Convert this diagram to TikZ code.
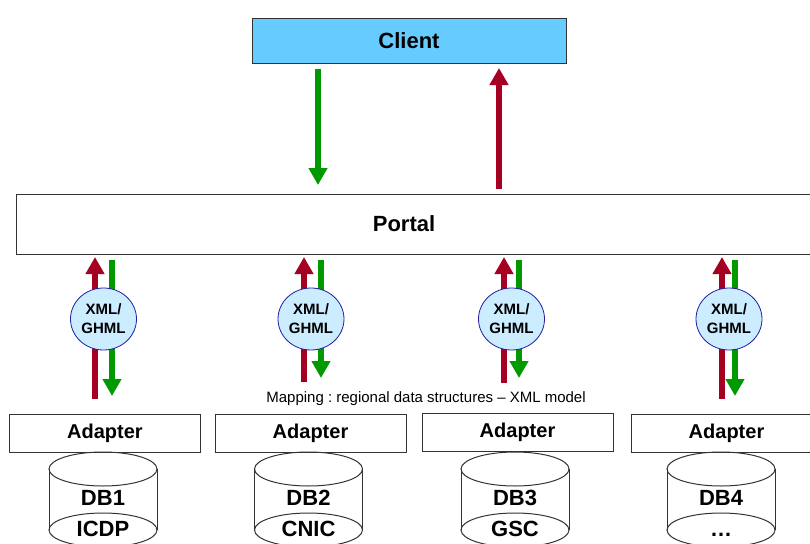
\documentclass[tikz,border=0pt]{standalone}
\usepackage{fontspec}
\setmainfont{Liberation Sans}
\usetikzlibrary{arrows.meta,shapes.geometric}
\definecolor{clientblue}{HTML}{66CCFF}
\definecolor{arrred}{HTML}{A50021}
\definecolor{arrgreen}{HTML}{009900}
\definecolor{bubblefill}{HTML}{CCECFF}
\definecolor{bubbleline}{HTML}{1F1FA0}
\definecolor{boxline}{HTML}{333333}
\frenchspacing
\begin{document}
\begin{tikzpicture}[x=1pt,y=-1pt,
  box/.style={draw=boxline, line width=1pt, rectangle, inner sep=0pt},
  upflow/.style={draw=arrred, line width=6pt, -{Triangle[width=18pt,length=17pt]}},
  downflow/.style={draw=arrgreen, line width=6pt, -{Triangle[width=18pt,length=17pt]}},
  bubble/.style={ellipse, draw=bubbleline, fill=bubblefill, line width=0.8pt,
    minimum width=66pt, minimum height=62pt, inner sep=0pt, align=center,
    font=\bfseries\fontsize{15}{19}\selectfont},
  cylline/.style={draw=boxline, line width=1pt},
  dbtext/.style={font=\bfseries\fontsize{22}{26}\selectfont, inner sep=0pt, anchor=base},
  bigtext/.style={font=\bfseries\fontsize{22}{26}\selectfont, inner sep=0pt}
]
\useasboundingbox (0,0) rectangle (810,543);
\clip (0,0) rectangle (810,543);

% Client
\node[box, fill=clientblue, minimum width=314pt, minimum height=44pt, bigtext] (client) at (409,41) {Client};

% Portal
\node[box, minimum width=820pt, minimum height=60pt, anchor=north west] (portal) at (16,194) {};
\node[bigtext] (portallabel) at (404,224) {Portal};

% Client <-> Portal arrows
\coordinate (cdown1) at (318,69);
\coordinate (cdown2) at (318,185);
\coordinate (cup1) at (499,189);
\coordinate (cup2) at (499,68);
\draw[downflow] (cdown1) -- (cdown2);
\draw[upflow] (cup1) -- (cup2);

% Mapping label
\node[font=\fontsize{15}{18}\selectfont, inner sep=0pt] (mapping) at (426,399) {Mapping : regional data structures – XML model};

% Columns
\foreach \i/\cx/\bx/\rx/\gx/\ax/\ay/\rb/\gb/\dbtop/\dbbot in {
  1/103/103.5/95/112/105/433/399/396/DB1/ICDP,
  2/308.5/311/304/321/310.5/433.5/382/378/DB2/CNIC,
  3/515/511.5/504/519/517.5/432/383/378/DB3/GSC,
  4/721/729/722/735/726.5/433/399/396/DB4/…}{
  % arrows
  \coordinate (rs\i) at (\rx,\rb);
  \coordinate (re\i) at (\rx,257);
  \coordinate (gs\i) at (\gx,260);
  \coordinate (ge\i) at (\gx,\gb);
  \draw[upflow] (rs\i) -- (re\i);
  \draw[downflow] (gs\i) -- (ge\i);
  % bubble
  \node[bubble] (xml\i) at (\bx,319) {XML/\\GHML};
  % adapter
  \node[box, minimum width=191pt, minimum height=38pt, font=\bfseries\fontsize{20}{24}\selectfont] (adapter\i) at (\ax,\ay) {Adapter};
  % cylinder
  \draw[cylline] (\cx,469) ellipse [x radius=54pt, y radius=17pt];
  \draw[cylline] ({\cx-54},469) -- ({\cx-54},530);
  \draw[cylline] ({\cx+54},469) -- ({\cx+54},530);
  \draw[cylline] (\cx,530) ellipse [x radius=54pt, y radius=17pt];
  \node[dbtext] (db\i) at (\cx,505) {\dbtop};
  \node[dbtext] (dbsub\i) at (\cx,536) {\dbbot};
}
\end{tikzpicture}
\end{document}
